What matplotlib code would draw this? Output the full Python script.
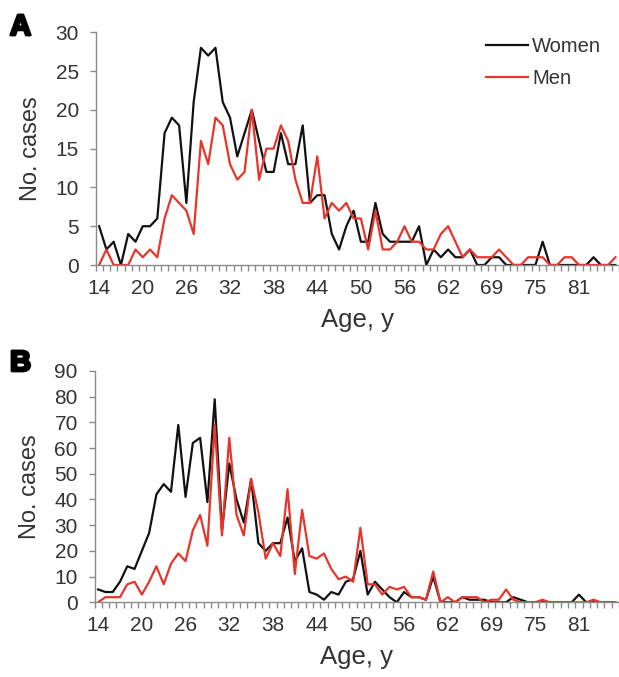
import numpy as np
import matplotlib.pyplot as plt
from matplotlib import patheffects

# age categories on the x axis (one age between 62 and 69 has no row)
ages = list(range(14, 63)) + [63, 64, 65, 67, 68] + list(range(69, 87))

# panel A
women_a = [5, 2, 3, 0, 4, 3, 5, 5, 6, 17, 19, 18, 8, 21, 28, 27, 28, 21,
           19, 14, 17, 20, 16, 12, 12, 17, 13, 13, 18, 8, 9, 9, 4, 2, 5, 7,
           3, 3, 8, 4, 3, 3, 3, 3, 5, 0, 2, 1, 2, 1, 1, 2, 0, 0, 1, 1,
           0, 0, 0, 0, 0, 3, 0, 0, 0, 0, 0, 0, 1, 0, 0, 0]
men_a = [0, 2, 0, 0, 0, 2, 1, 2, 1, 6, 9, 8, 7, 4, 16, 13, 19, 18,
         13, 11, 12, 20, 11, 15, 15, 18, 16, 11, 8, 8, 14, 6, 8, 7, 8, 6,
         6, 2, 7, 2, 2, 3, 5, 3, 3, 2, 2, 4, 5, 3, 1, 2, 1, 1, 1, 2,
         1, 0, 0, 1, 1, 1, 0, 0, 1, 1, 0, 0, 0, 0, 0, 1]

# panel B
women_b = [5, 4, 4, 8, 14, 13, 20, 27, 42, 46, 43, 69, 41, 62, 64, 39, 79, 28,
           54, 40, 31, 48, 23, 20, 23, 23, 33, 16, 21, 4, 3, 1, 4, 3, 8, 9,
           20, 3, 8, 5, 2, 0, 4, 2, 2, 1, 10, 0, 0, 0, 2, 1, 1, 1, 0, 0,
           0, 2, 1, 0, 0, 0, 0, 0, 0, 0, 3, 0, 0, 0, 0, 0]
men_b = [0, 2, 2, 2, 7, 8, 3, 8, 14, 7, 15, 19, 16, 28, 34, 22, 69, 26,
         64, 34, 26, 48, 35, 17, 23, 18, 44, 11, 36, 18, 17, 19, 13, 9, 10, 8,
         29, 7, 7, 3, 6, 5, 6, 2, 2, 1, 12, 0, 2, 0, 2, 2, 2, 0, 1, 1,
         5, 1, 0, 0, 0, 1, 0, 0, 0, 0, 0, 0, 1, 0, 0, 0]

plt.rcParams['font.family'] = ['Liberation Sans', 'DejaVu Sans']

W, H = 619, 677
fig = plt.figure(figsize=(W / 100, H / 100), dpi=100)

gray = '#8a8a8a'
txt = '#333333'


def draw(ax, w, m, ymax, ystep):
    x = np.arange(len(ages))
    ax.plot(x, w, color='#111111', lw=1.6, label='Women')
    ax.plot(x, m, color='#e8352b', lw=1.6, label='Men')
    ax.set_xlim(-0.5, len(ages) - 0.5)
    ax.set_ylim(0, ymax)
    ax.set_yticks(np.arange(0, ymax + 1, ystep))
    ax.set_xticks(x[::6])
    ax.set_xticklabels([str(a) for a in ages[::6]])
    ax.set_xticks(np.arange(-0.5, len(ages), 1), minor=True)
    for s in ['top', 'right']:
        ax.spines[s].set_visible(False)
    for s in ['left', 'bottom']:
        ax.spines[s].set_color(gray)
        ax.spines[s].set_linewidth(1.0)
    ax.tick_params(axis='x', which='major', length=0, pad=10, labelsize=15, labelcolor=txt)
    ax.tick_params(axis='x', which='minor', length=4, width=1, color=gray)
    ax.tick_params(axis='y', length=4, width=1, color=gray, pad=8, labelsize=15, labelcolor=txt)
    ax.set_xlabel('Age, y', fontsize=18.5, color=txt, labelpad=7)
    ax.set_ylabel('No. cases', fontsize=17, color=txt, labelpad=10)


ax1 = fig.add_axes([95.5 / W, 1 - 265 / H, (W - 95.5) / W, (265 - 32.3) / H])
draw(ax1, women_a, men_a, 30, 5)
ax1.legend(loc='upper left', bbox_to_anchor=(486 / W, 1 - 37 / H),
           bbox_transform=fig.transFigure, frameon=False, fontsize=14.5,
           handlelength=2.1, handletextpad=0.2, labelspacing=0.65,
           borderpad=0, borderaxespad=0, labelcolor=txt)

ax2 = fig.add_axes([94.5 / W, 1 - 602.3 / H, (W - 94.5) / W, (602.3 - 371) / H])
draw(ax2, women_b, men_b, 90, 10)

heavy = [patheffects.withStroke(linewidth=2, foreground='black')]
fig.text(10 / W, 1 - 35 / H, 'A', fontsize=21, fontweight='bold', va='baseline',
         path_effects=heavy)
fig.text(10 / W, 1 - 371 / H, 'B', fontsize=21, fontweight='bold', va='baseline',
         path_effects=heavy)

fig.savefig('out.png', dpi=100)
